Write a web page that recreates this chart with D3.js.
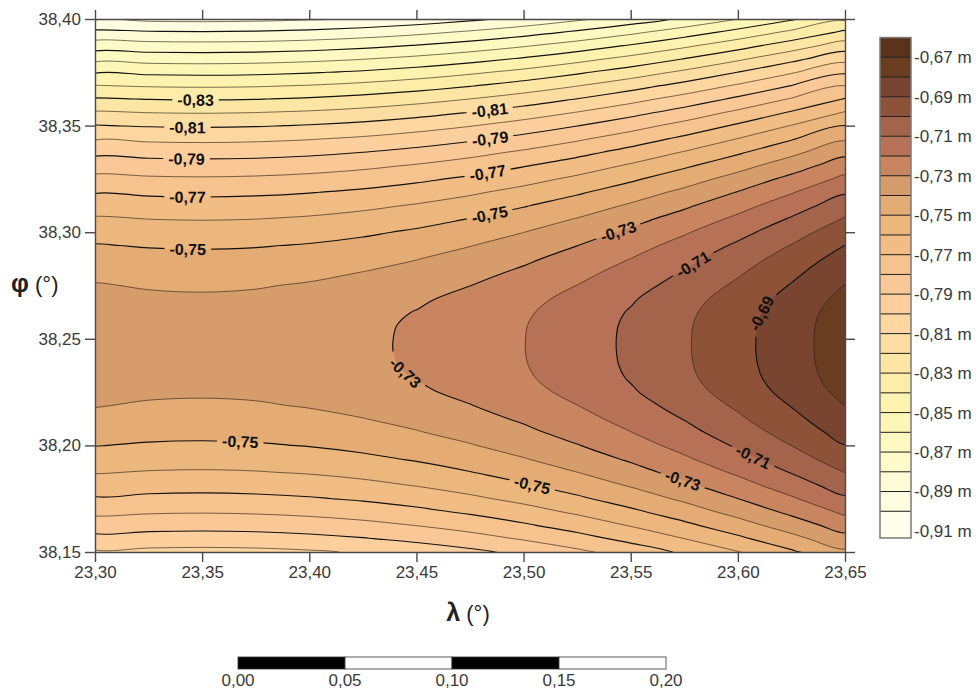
<!DOCTYPE html>
<html lang="en">
<head>
    <meta charset="UTF-8">
    <title>Contour map</title>
    <script src="https://d3js.org/d3.v7.min.js"></script>
    <style>
        body {
            margin: 0;
            background: #fff;
            font-family: "Liberation Sans", Arial, sans-serif;
        }

        .axis text {
            fill: #3a3a3a;
        }

        .axis path,
        .axis line {
            stroke: #4a4a4a;
            stroke-width: 1.4px;
        }

        .line-label {
            font: bold 16px "Liberation Sans", Arial, sans-serif;
            fill: #111;
        }
    </style>
</head>
<body>
    <div id="chart"></div>

    <script>
        // grid nodes (degrees)
        const lambdas = [23.300, 23.325, 23.350, 23.375, 23.400, 23.425, 23.450, 23.475,
                         23.500, 23.525, 23.550, 23.575, 23.600, 23.625, 23.650];
        const phis = [38.15000, 38.15625, 38.16250, 38.16875, 38.17500, 38.18125, 38.18750,
                      38.19375, 38.20000, 38.20625, 38.21250, 38.21875, 38.22500, 38.23125,
                      38.23750, 38.24375, 38.25000, 38.25625, 38.26250, 38.26875, 38.27500,
                      38.28125, 38.28750, 38.29375, 38.30000, 38.30625, 38.31250, 38.31875,
                      38.32500, 38.33125, 38.33750, 38.34375, 38.35000, 38.35625, 38.36250,
                      38.36875, 38.37500, 38.38125, 38.38750, 38.39375, 38.40000];

        // values in metres, one row per phi (south to north), one column per lambda
        const depth = [
            [-0.8013, -0.8025, -0.8029, -0.8025, -0.8012, -0.7990, -0.7960, -0.7922, -0.7875, -0.7820, -0.7756, -0.7684, -0.7604, -0.7515, -0.7417],
            [-0.7929, -0.7941, -0.7945, -0.7941, -0.7928, -0.7906, -0.7876, -0.7838, -0.7791, -0.7736, -0.7672, -0.76001, -0.7520, -0.7431, -0.7333],
            [-0.7851, -0.7863, -0.7867, -0.7862, -0.7849, -0.7828, -0.7798, -0.7760, -0.7713, -0.7658, -0.7594, -0.7522, -0.7441, -0.7352, -0.7255],
            [-0.7778, -0.7790, -0.7794, -0.7789, -0.7776, -0.7755, -0.7725, -0.7687, -0.7640, -0.7585, -0.7521, -0.7449, -0.7368, -0.7279, -0.7182],
            [-0.7710, -0.7723, -0.7727, -0.7722, -0.7709, -0.7688, -0.7658, -0.7619, -0.7573, -0.7517, -0.7454, -0.7382, -0.7301, -0.7212, -0.7115],
            [-0.7649, -0.7661, -0.7665, -0.7660, -0.7647, -0.7626, -0.7596, -0.7558, -0.7511, -0.7456, -0.7392, -0.7320, -0.7239, -0.7150, -0.7053],
            [-0.7593, -0.7605, -0.7609, -0.7604, -0.7591, -0.7570, -0.7540, -0.7502, -0.7455, -0.73997, -0.7336, -0.7264, -0.7183, -0.7094, -0.6997],
            [-0.7542, -0.7555, -0.7558, -0.7554, -0.7541, -0.7519, -0.7490, -0.7451, -0.7404, -0.7349, -0.7286, -0.7213, -0.7133, -0.7044, -0.6946],
            [-0.7497, -0.7510, -0.7514, -0.7509, -0.7496, -0.7475, -0.7445, -0.7406, -0.7360, -0.7304, -0.7241, -0.7169, -0.7088, -0.6999, -0.6902],
            [-0.7458, -0.7470, -0.7474, -0.7470, -0.7457, -0.7435, -0.7405, -0.7367, -0.7320, -0.7265, -0.7201, -0.7129, -0.7049, -0.6960, -0.6862],
            [-0.7424, -0.7437, -0.7441, -0.7436, -0.7423, -0.7402, -0.7372, -0.7333, -0.7287, -0.7231, -0.7168, -0.7096, -0.7015, -0.6926, -0.6829],
            [-0.7396, -0.7409, -0.7412, -0.7408, -0.7394, -0.7371, -0.7342, -0.7303, -0.7256, -0.7201, -0.7138, -0.7065, -0.6985, -0.6896, -0.6799],
            [-0.7374, -0.7386, -0.7390, -0.7385, -0.7369, -0.7345, -0.7315, -0.7277, -0.7230, -0.7175, -0.7111, -0.7039, -0.6958, -0.6869, -0.6772],
            [-0.7357, -0.7369, -0.7373, -0.7368, -0.7352, -0.7328, -0.7298, -0.7260, -0.7213, -0.7158, -0.7094, -0.7022, -0.6941, -0.6852, -0.6755],
            [-0.7345, -0.7358, -0.7362, -0.7357, -0.7342, -0.7320, -0.7290, -0.7251, -0.7205, -0.7149, -0.7086, -0.7014, -0.6933, -0.6844, -0.6747],
            [-0.7340, -0.7352, -0.7356, -0.7351, -0.7338, -0.7317, -0.7287, -0.7249, -0.7202, -0.7147, -0.7083, -0.7011, -0.6930, -0.6841, -0.6744],
            [-0.7339, -0.7352, -0.7356, -0.7351, -0.7338, -0.7317, -0.7287, -0.7248, -0.7202, -0.7146, -0.7083, -0.7011, -0.6930, -0.6841, -0.6744],
            [-0.7345, -0.7357, -0.7361, -0.7356, -0.7341, -0.7319, -0.7289, -0.7251, -0.7204, -0.7149, -0.7085, -0.7013, -0.6932, -0.6843, -0.6746],
            [-0.7356, -0.7368, -0.7372, -0.7367, -0.7351, -0.7327, -0.7297, -0.7259, -0.7212, -0.7157, -0.7093, -0.7021, -0.6940, -0.6851, -0.6754],
            [-0.7372, -0.7385, -0.7389, -0.7384, -0.7368, -0.7343, -0.7314, -0.7275, -0.7228, -0.7173, -0.7110, -0.7037, -0.6957, -0.6868, -0.6771],
            [-0.7394, -0.7407, -0.7411, -0.7406, -0.7392, -0.7370, -0.7340, -0.7301, -0.7255, -0.7199, -0.7136, -0.7064, -0.6983, -0.6894, -0.6797],
            [-0.7422, -0.7435, -0.7438, -0.7434, -0.7421, -0.7399, -0.7369, -0.7331, -0.7284, -0.7229, -0.7165, -0.7093, -0.7013, -0.6924, -0.6826],
            [-0.7455, -0.7468, -0.7472, -0.7467, -0.7454, -0.7433, -0.7403, -0.7364, -0.7318, -0.7262, -0.7199, -0.7127, -0.7046, -0.6957, -0.6860],
            [-0.7494, -0.7507, -0.7511, -0.7506, -0.7493, -0.7472, -0.7442, -0.7403, -0.7357, -0.7301, -0.7238, -0.7166, -0.7085, -0.6996, -0.6899],
            [-0.7539, -0.7551, -0.7555, -0.7551, -0.7538, -0.7516, -0.7486, -0.7448, -0.7401, -0.7346, -0.7282, -0.7210, -0.7130, -0.7041, -0.6943],
            [-0.7589, -0.7601, -0.7605, -0.7601, -0.7588, -0.7566, -0.7536, -0.7498, -0.7451, -0.7396, -0.7332, -0.7260, -0.7180, -0.7091, -0.6993],
            [-0.7645, -0.7657, -0.7661, -0.7656, -0.7643, -0.7622, -0.7592, -0.7554, -0.7507, -0.7452, -0.7388, -0.7316, -0.7235, -0.7146, -0.7049],
            [-0.7706, -0.7718, -0.7722, -0.7717, -0.7704, -0.7683, -0.7653, -0.7615, -0.7568, -0.7513, -0.7449, -0.7377, -0.7296, -0.7207, -0.7110],
            [-0.7773, -0.7785, -0.7789, -0.7784, -0.7771, -0.7750, -0.7720, -0.7682, -0.7635, -0.7580, -0.7516, -0.7444, -0.7363, -0.7274, -0.7177],
            [-0.7845, -0.7857, -0.7861, -0.7857, -0.7844, -0.7822, -0.7792, -0.7754, -0.7707, -0.7652, -0.7588, -0.7516, -0.7436, -0.7347, -0.7249],
            [-0.7923, -0.7935, -0.7939, -0.7935, -0.7922, -0.79003, -0.7870, -0.7832, -0.7785, -0.7730, -0.7666, -0.7594, -0.7514, -0.7425, -0.7327],
            [-0.8007, -0.8019, -0.8023, -0.8018, -0.8005, -0.7984, -0.7954, -0.7916, -0.7869, -0.7814, -0.7750, -0.7678, -0.7597, -0.7508, -0.7411],
            [-0.8096, -0.8108, -0.8112, -0.8107, -0.8094, -0.8073, -0.8043, -0.8005, -0.7958, -0.7903, -0.7839, -0.7767, -0.7686, -0.7597, -0.75001],
            [-0.8191, -0.8203, -0.8207, -0.8202, -0.8189, -0.8168, -0.8138, -0.80996, -0.8053, -0.7998, -0.7934, -0.7862, -0.7781, -0.7692, -0.7595],
            [-0.8291, -0.8303, -0.8307, -0.8303, -0.8290, -0.8268, -0.8238, -0.81999, -0.8153, -0.8098, -0.8034, -0.7962, -0.7882, -0.7793, -0.7695],
            [-0.8397, -0.8409, -0.8413, -0.8409, -0.8396, -0.8374, -0.8344, -0.8306, -0.8259, -0.8204, -0.8140, -0.8068, -0.7988, -0.7899, -0.7801],
            [-0.8508, -0.8521, -0.8525, -0.8520, -0.8507, -0.8486, -0.8456, -0.8417, -0.8371, -0.8315, -0.8252, -0.8180, -0.8099, -0.8010, -0.7913],
            [-0.8626, -0.8638, -0.8642, -0.8637, -0.8624, -0.8603, -0.8573, -0.8534, -0.8488, -0.8432, -0.8369, -0.8297, -0.8216, -0.8127, -0.8030],
            [-0.8748, -0.8761, -0.8764, -0.8760, -0.8747, -0.8725, -0.8695, -0.8657, -0.8610, -0.8555, -0.8491, -0.8419, -0.8339, -0.8250, -0.8152],
            [-0.8876, -0.8889, -0.8893, -0.8888, -0.8875, -0.8854, -0.8824, -0.8785, -0.8739, -0.8683, -0.8620, -0.8548, -0.8467, -0.8378, -0.8281],
            [-0.9010, -0.9023, -0.9027, -0.9022, -0.9009, -0.8988, -0.8958, -0.8919, -0.8873, -0.8817, -0.8754, -0.8682, -0.8601, -0.8512, -0.8415]
        ];

        // contour levels (lower bound of each colour class)
        const levels = [-0.91, -0.90, -0.89, -0.88, -0.87, -0.86, -0.85, -0.84, -0.83,
                        -0.82, -0.81, -0.80, -0.79, -0.78, -0.77, -0.76, -0.75, -0.74,
                        -0.73, -0.72, -0.71, -0.70, -0.69, -0.68, -0.67];
        const bandColors = ["#fffeea", "#fffde0", "#fffcd5", "#fffbc9", "#fef9c0", "#fef6b7",
                            "#fef2af", "#fdeda8", "#fde6a4", "#fddea2", "#fdd6a0", "#fccf9d",
                            "#fac896", "#f6c28e", "#f1bd85", "#ecb77c", "#e4ac74", "#d79c6b",
                            "#c8855f", "#b77157", "#a4634b", "#8d5238", "#7a4530", "#6a3d21",
                            "#5a3318"];

        const xTicks = [23.30, 23.35, 23.40, 23.45, 23.50, 23.55, 23.60, 23.65];
        const yTicks = [38.15, 38.20, 38.25, 38.30, 38.35, 38.40];
        const legendTicks = [-0.67, -0.69, -0.71, -0.73, -0.75, -0.77, -0.79,
                             -0.81, -0.83, -0.85, -0.87, -0.89, -0.91];
        const scaleTicks = [0.00, 0.05, 0.10, 0.15, 0.20];

        // where the line labels sit (level, lambda, phi)
        const lineLabels = [
            { level: -0.83, lon: 23.347, lat: 38.363 },
            { level: -0.81, lon: 23.343, lat: 38.350 },
            { level: -0.79, lon: 23.343, lat: 38.335 },
            { level: -0.77, lon: 23.343, lat: 38.317 },
            { level: -0.75, lon: 23.343, lat: 38.293 },
            { level: -0.75, lon: 23.368, lat: 38.202 },
            { level: -0.81, lon: 23.484, lat: 38.359 },
            { level: -0.79, lon: 23.484, lat: 38.346 },
            { level: -0.77, lon: 23.483, lat: 38.329 },
            { level: -0.75, lon: 23.484, lat: 38.310 },
            { level: -0.73, lon: 23.544, lat: 38.301 },
            { level: -0.71, lon: 23.577, lat: 38.288 },
            { level: -0.69, lon: 23.613, lat: 38.261 },
            { level: -0.73, lon: 23.446, lat: 38.235 },
            { level: -0.75, lon: 23.504, lat: 38.181 },
            { level: -0.73, lon: 23.574, lat: 38.182 },
            { level: -0.71, lon: 23.607, lat: 38.195 }
        ];

        const W = 979, H = 693;
        const plot = { left: 95, right: 845, top: 19, bottom: 552 };

        const locale = d3.formatLocale({ decimal: ",", thousands: ".", grouping: [3], currency: ["", ""], minus: "-" });
        const fmt2 = locale.format(".2f");

        const svg = d3.select("#chart").append("svg")
            .attr("width", W)
            .attr("height", H)
            .style("display", "block");

        const x = d3.scaleLinear().domain([xTicks[0], xTicks[xTicks.length - 1]]).range([plot.left, plot.right]);
        const y = d3.scaleLinear().domain([yTicks[0], yTicks[yTicks.length - 1]]).range([plot.bottom, plot.top]);

        const defs = svg.append("defs");
        defs.append("clipPath").attr("id", "plotClip")
            .append("rect")
            .attr("x", plot.left).attr("y", plot.top)
            .attr("width", plot.right - plot.left).attr("height", plot.bottom - plot.top);

        const mask = defs.append("mask").attr("id", "lineGaps")
            .attr("maskUnits", "userSpaceOnUse")
            .attr("x", 0).attr("y", 0).attr("width", W).attr("height", H);
        mask.append("rect").attr("width", W).attr("height", H).attr("fill", "#fff");

        // contours
        const nx = lambdas.length, ny = phis.length;
        const contourGen = d3.contours().size([nx, ny]).thresholds(levels);
        const bands = contourGen(depth.flat());

        const colToLon = d3.scaleLinear().domain([0.5, nx - 0.5]).range([lambdas[0], lambdas[nx - 1]]);
        const rowToLat = d3.scaleLinear().domain([0.5, ny - 0.5]).range([phis[0], phis[ny - 1]]);

        const smoothLine = d3.line().curve(d3.curveCatmullRomClosed.alpha(0.5));

        function ringPath(ring) {
            const pts = [];
            ring.forEach(p => {
                const q = [x(colToLon(p[0])), y(rowToLat(p[1]))];
                const last = pts[pts.length - 1];
                if (!last || Math.hypot(q[0] - last[0], q[1] - last[1]) > 0.05) pts.push(q);
            });
            if (pts.length > 1) {
                const a = pts[0], b = pts[pts.length - 1];
                if (Math.hypot(a[0] - b[0], a[1] - b[1]) < 0.05) pts.pop();
            }
            return smoothLine(pts);
        }

        const plotG = svg.append("g").attr("clip-path", "url(#plotClip)");

        plotG.append("rect")
            .attr("x", plot.left).attr("y", plot.top)
            .attr("width", plot.right - plot.left).attr("height", plot.bottom - plot.top)
            .attr("fill", bandColors[0]);

        plotG.append("g").selectAll("path")
            .data(bands)
            .enter().append("path")
            .attr("d", d => d.coordinates.map(poly => poly.map(ringPath).join("")).join(""))
            .attr("fill", (d, i) => bandColors[i])
            .attr("fill-rule", "evenodd");

        // one path per ring for the isolines
        const rings = [];
        bands.forEach((b, k) => {
            if (k === 0) return;
            b.coordinates.forEach(poly => poly.forEach(ring => rings.push({ k, d: ringPath(ring) })));
        });

        const isMajor = k => Math.round(Math.abs(levels[k]) * 100) % 2 === 1;

        const lineG = plotG.append("g").attr("mask", "url(#lineGaps)");
        lineG.selectAll("path")
            .data(rings)
            .enter().append("path")
            .attr("d", d => d.d)
            .attr("fill", "none")
            .attr("stroke", d => isMajor(d.k) ? "#111" : "#2b2016")
            .attr("stroke-width", d => isMajor(d.k) ? 1.15 : 0.7)
            .attr("stroke-opacity", d => isMajor(d.k) ? 1 : 0.9);

        // labels on lines
        const labelG = svg.append("g");
        lineLabels.forEach(lab => {
            const k = levels.findIndex(v => Math.abs(v - lab.level) < 1e-9);
            const tx = x(lab.lon), ty = y(lab.lat);
            let best = null;
            lineG.selectAll("path").filter(d => d.k === k).each(function () {
                const L = this.getTotalLength();
                for (let s = 0; s <= L; s += 1.5) {
                    const p = this.getPointAtLength(s);
                    if (p.x < plot.left + 3 || p.x > plot.right - 3 || p.y < plot.top + 3 || p.y > plot.bottom - 3) continue;
                    const dd = (p.x - tx) ** 2 + (p.y - ty) ** 2;
                    if (!best || dd < best.dd) best = { dd, s, node: this, p, L };
                }
            });
            if (!best) return;
            const a = best.node.getPointAtLength(Math.max(0, best.s - 7));
            const b = best.node.getPointAtLength(Math.min(best.L, best.s + 7));
            let ang = Math.atan2(b.y - a.y, b.x - a.x) * 180 / Math.PI;
            if (ang > 90) ang -= 180;
            if (ang < -90) ang += 180;

            const t = labelG.append("text")
                .attr("class", "line-label")
                .attr("text-anchor", "middle")
                .attr("dy", "0.36em")
                .attr("transform", `translate(${best.p.x},${best.p.y}) rotate(${ang})`)
                .text(fmt2(lab.level));
            const w = t.node().getComputedTextLength();

            mask.append("rect")
                .attr("x", -w / 2 - 5).attr("y", -8)
                .attr("width", w + 10).attr("height", 16)
                .attr("fill", "#000")
                .attr("transform", `translate(${best.p.x},${best.p.y}) rotate(${ang})`);
        });

        // axes
        function styleAxis(g) {
            g.attr("font-size", 17).attr("font-family", "'Liberation Sans', Arial, sans-serif");
        }

        svg.append("g").attr("class", "axis")
            .attr("transform", `translate(0,${plot.bottom})`)
            .call(d3.axisBottom(x).tickValues(xTicks).tickFormat(fmt2).tickSize(10).tickSizeOuter(0).tickPadding(4))
            .call(styleAxis);

        svg.append("g").attr("class", "axis")
            .attr("transform", `translate(${plot.left},0)`)
            .call(d3.axisLeft(y).tickValues(yTicks).tickFormat(fmt2).tickSize(10).tickSizeOuter(0).tickPadding(4))
            .call(styleAxis);

        svg.append("g").attr("class", "axis")
            .attr("transform", `translate(0,${plot.top})`)
            .call(d3.axisTop(x).tickValues(xTicks).tickFormat("").tickSize(9).tickSizeOuter(0));

        svg.append("g").attr("class", "axis")
            .attr("transform", `translate(${plot.right},0)`)
            .call(d3.axisRight(y).tickValues(yTicks).tickFormat("").tickSize(10).tickSizeOuter(0));

        // axis titles
        const phiTitle = svg.append("text")
            .attr("x", 11).attr("y", 292)
            .attr("fill", "#222")
            .style("font-size", "22px");
        phiTitle.append("tspan").attr("font-weight", "bold").style("font-size", "25px").text("φ");
        phiTitle.append("tspan").text(" (°)");

        const lamTitle = svg.append("text")
            .attr("x", 468).attr("y", 621)
            .attr("text-anchor", "middle")
            .attr("fill", "#222")
            .style("font-size", "22px");
        lamTitle.append("tspan").attr("font-weight", "bold").style("font-size", "25px").text("λ");
        lamTitle.append("tspan").text(" (°)");

        // colour bar
        const step = levels[1] - levels[0];
        const cy = d3.scaleLinear()
            .domain([legendTicks[0], legendTicks[legendTicks.length - 1]])
            .range([57.3, 531]);
        const barX = 880, barW = 31;
        const barTop = cy(levels[levels.length - 1] + step);
        const barBottom = cy(legendTicks[legendTicks.length - 1]) + 7;

        const legend = svg.append("g");
        legend.selectAll("rect.band")
            .data(levels)
            .enter().append("rect")
            .attr("class", "band")
            .attr("x", barX)
            .attr("width", barW)
            .attr("y", d => cy(d + step))
            .attr("height", (d, i) => (i === 0 ? barBottom : cy(d)) - cy(d + step))
            .attr("fill", (d, i) => bandColors[i]);

        legend.selectAll("line.sep")
            .data(levels.slice(1))
            .enter().append("line")
            .attr("class", "sep")
            .attr("x1", barX).attr("x2", barX + barW)
            .attr("y1", d => cy(d)).attr("y2", d => cy(d))
            .attr("stroke", "#1e1e1e")
            .attr("stroke-width", 1);

        legend.append("rect")
            .attr("x", barX).attr("y", barTop)
            .attr("width", barW).attr("height", barBottom - barTop)
            .attr("fill", "none")
            .attr("stroke", "#7a7a7a")
            .attr("stroke-width", 1.5);

        legend.selectAll("text")
            .data(legendTicks)
            .enter().append("text")
            .attr("x", barX + barW + 3)
            .attr("y", d => cy(d))
            .attr("dy", "0.35em")
            .attr("fill", "#3a3a3a")
            .style("font-size", "17px")
            .text(d => fmt2(d) + " m");

        // scale bar
        const sx = d3.scaleLinear().domain([scaleTicks[0], scaleTicks[scaleTicks.length - 1]]).range([238, 666]);
        const scaleG = svg.append("g");
        scaleG.selectAll("rect")
            .data(d3.pairs(scaleTicks))
            .enter().append("rect")
            .attr("x", d => sx(d[0]))
            .attr("y", 657)
            .attr("width", d => sx(d[1]) - sx(d[0]))
            .attr("height", 12)
            .attr("fill", (d, i) => i % 2 === 0 ? "#000" : "#fff")
            .attr("stroke", "#333")
            .attr("stroke-width", 0.8);

        scaleG.selectAll("text")
            .data(scaleTicks)
            .enter().append("text")
            .attr("x", d => sx(d))
            .attr("y", 686)
            .attr("text-anchor", "middle")
            .attr("fill", "#3a3a3a")
            .style("font-size", "17px")
            .text(d => fmt2(d));
    </script>
</body>
</html>
